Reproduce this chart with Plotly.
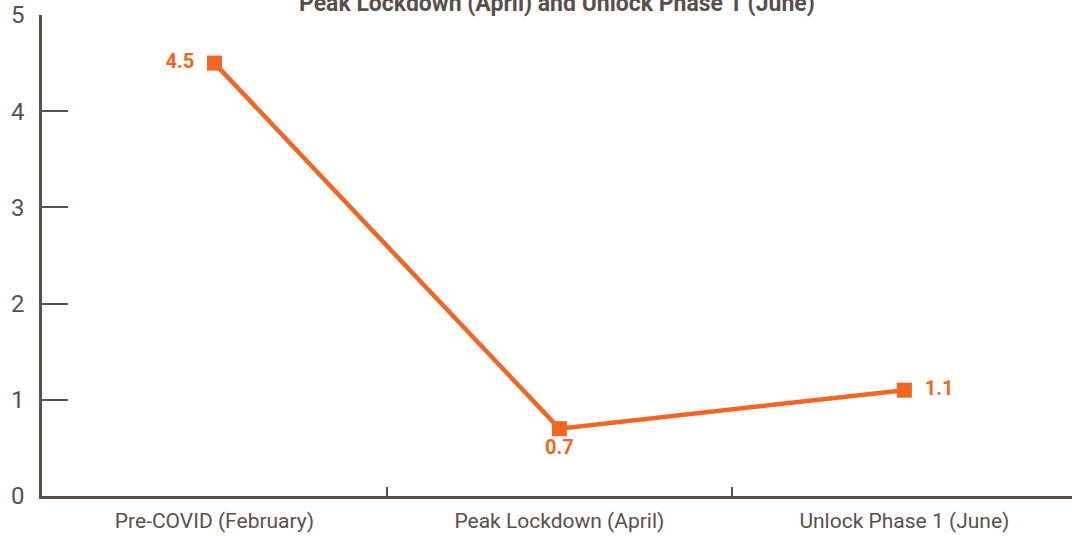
import plotly.graph_objects as go

categories = ["Pre-COVID (February)", "Peak Lockdown (April)", "Unlock Phase 1 (June)"]
values = [4.5, 0.7, 1.1]
label_positions = ["middle left", "bottom center", "middle right"]
title_text = "Peak Lockdown (April) and Unlock Phase 1 (June)"

grey = "#5b4f4c"
orange = "#f26522"

fig = go.Figure()
fig.add_trace(go.Scatter(
    x=categories, y=values, mode="lines+markers+text",
    line=dict(color=orange, width=4.5),
    marker=dict(symbol="square", size=15, color=orange),
    text=["  " + str(v) + "  " for v in values],
    textposition=label_positions,
    textfont=dict(family="Roboto", size=20, color=orange, weight="bold"),
    cliponaxis=False,
    showlegend=False,
))

# title sits partly above the page, as in the source image
fig.add_annotation(
    text="<b>" + title_text + "</b>", xref="paper", yref="paper",
    x=0.5, y=1 - 4 / 481, xanchor="center", yanchor="bottom",
    showarrow=False, font=dict(family="Roboto", size=23, color=grey),
)

fig.update_layout(
    width=1072, height=536,
    margin=dict(l=42, r=0, t=15, b=40, autoexpand=False),
    plot_bgcolor="white", paper_bgcolor="white",
    font=dict(family="Roboto", color=grey),
    xaxis=dict(
        range=[-0.5, 2.486], showgrid=False, zeroline=False,
        showline=True, linecolor=grey, linewidth=2.5,
        ticks="inside", tickson="boundaries", ticklen=9, tickwidth=2, tickcolor=grey,
        tickfont=dict(size=21, color=grey), ticklabelstandoff=4,
    ),
    yaxis=dict(
        range=[0, 5], dtick=1, showgrid=False, zeroline=False,
        showline=True, linecolor=grey, linewidth=2.5,
        ticks="inside", ticklen=26, tickwidth=2, tickcolor=grey,
        tickfont=dict(size=24, color=grey), ticklabelstandoff=10,
    ),
)

fig.write_html("out.html", config={"displayModeBar": False},
               post_script="document.body.style.margin='0px';")
